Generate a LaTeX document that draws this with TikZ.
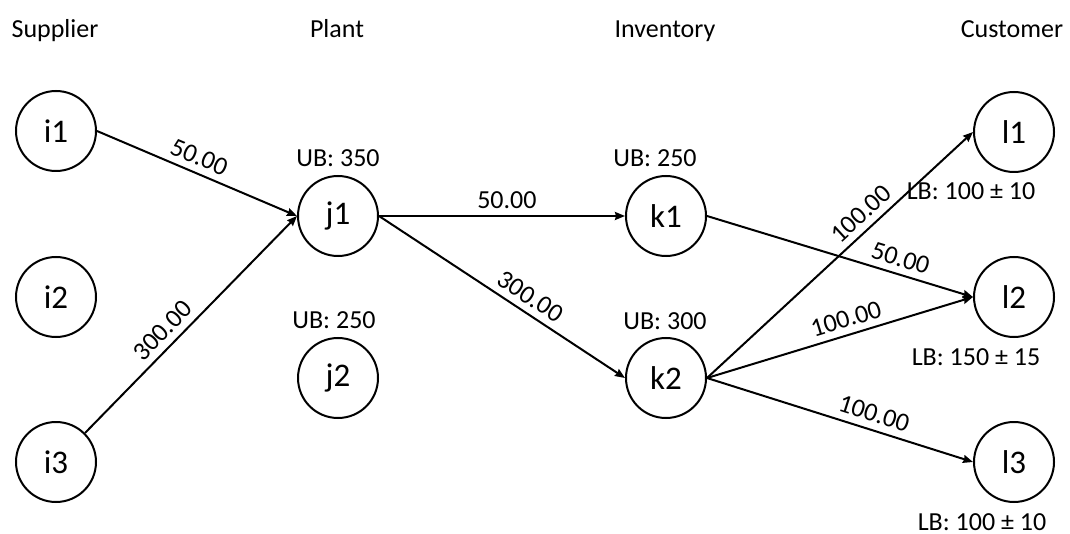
\documentclass[tikz,border=0pt]{standalone}
\usepackage{fontspec}
\setmainfont{Carlito}
\usetikzlibrary{arrows.meta}
\begin{document}
\begin{tikzpicture}[x=1pt,y=-1pt,
  vertex/.style={circle,draw,line width=2pt,minimum size=80pt,inner sep=0pt,
    font=\fontsize{33}{36}\selectfont},
  caption/.style={anchor=base,inner sep=0pt,font=\fontsize{26}{30}\selectfont},
  flow/.style={line width=2pt,-{Stealth[length=10pt,width=8pt,inset=1pt]}},
  qty/.style={sloped,above,inner sep=6.5pt,font=\fontsize{26}{30}\selectfont}]
\useasboundingbox (0,0) rectangle (1070,534);

% column headers
\node[caption] (hs) at (55,38) {Supplier};
\node[caption] (hp) at (337,38) {Plant};
\node[caption] (hi) at (665,38) {Inventory};
\node[caption] (hc) at (1012,38) {Customer};

% suppliers
\node[vertex] (i1) at (56,131) {i1};
\node[vertex] (i2) at (56,297) {i2};
\node[vertex] (i3) at (56,462) {i3};

% plants
\node[vertex] (j1) at (338,216) {j1};
\node[vertex] (j2) at (338,378) {j2};

% inventories
\node[vertex] (k1) at (666,216) {k1};
\node[vertex] (k2) at (666,378) {k2};

% customers
\node[vertex] (l1) at (1014,132) {l1};
\node[vertex] (l2) at (1014,297) {l2};
\node[vertex] (l3) at (1014,462) {l3};

% capacity bounds
\node[caption] (ubj1) at (338,167) {UB: 350};
\node[caption] (ubj2) at (334,328) {UB: 250};
\node[caption] (ubk1) at (655,167) {UB: 250};
\node[caption] (ubk2) at (665,330) {UB: 300};

% demand bounds
\node[caption] (lbl1) at (971,200) {LB: 100 ± 10};
\node[caption] (lbl2) at (976,365) {LB: 150 ± 15};
\node[caption] (lbl3) at (982,530) {LB: 100 ± 10};

% flows
\draw[flow] (i1.east) -- node[qty,pos=0.48] {50.00} (j1.west);
\draw[flow] (i3.45) -- node[qty,pos=0.42] {300.00} (j1.west);
\draw[flow] (j1.east) -- node[qty,pos=0.52] {50.00} (k1.west);
\draw[flow] (j1.east) -- node[qty,pos=0.58] {300.00} (k2.west);
\draw[flow] (k2.east) -- node[qty,pos=0.62] {100.00} (l1.west);
\draw[flow] (k1.east) -- node[qty,pos=0.71] {50.00} (l2.west);
\draw[flow] (k2.east) -- node[qty,pos=0.54] {100.00} (l2.west);
\draw[flow] (k2.east) -- node[qty,pos=0.61] {100.00} (l3.west);
\end{tikzpicture}
\end{document}
